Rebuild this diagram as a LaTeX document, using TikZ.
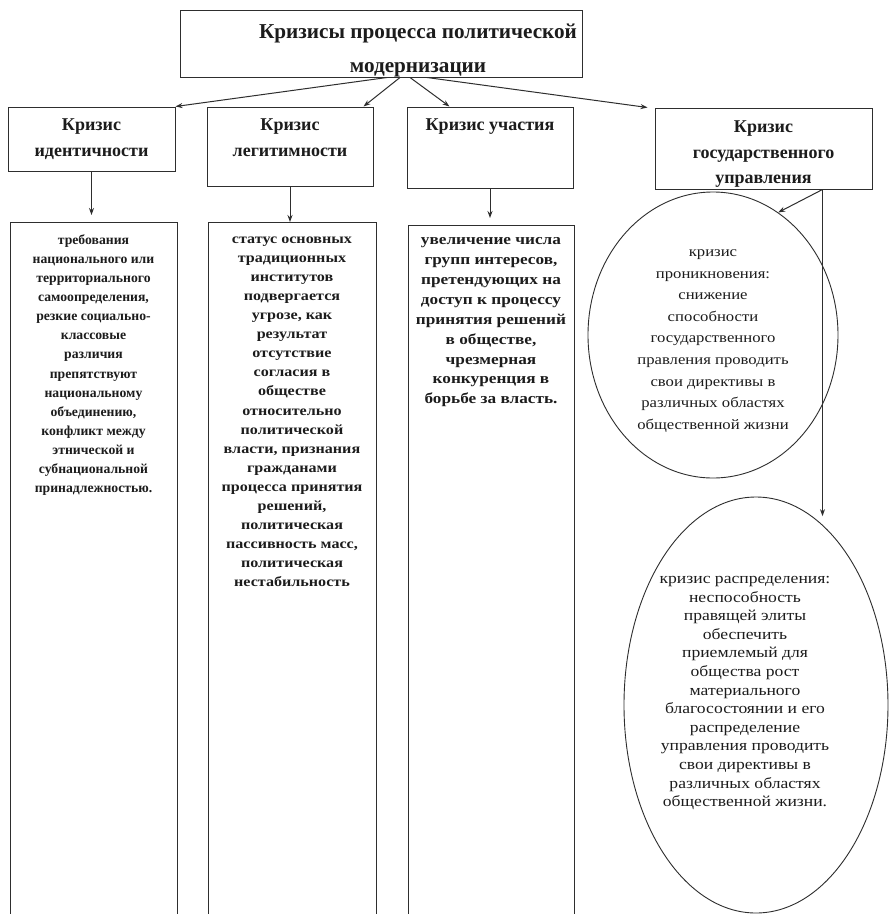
\documentclass[tikz,border=0pt]{standalone}
\usepackage{fontspec}
\setmainfont{Liberation Serif}
\newfontfamily\wideserif[FakeStretch=1.15]{Liberation Serif}
\usepackage{tikz}
\usetikzlibrary{shapes.geometric, arrows.meta, positioning, calc}
\definecolor{lineclr}{HTML}{2E2E2E}
\definecolor{textclr}{HTML}{1C1C1C}

\begin{document}
\begin{tikzpicture}[
    x=1pt, y=-1pt,
    frame/.style={rectangle, draw=lineclr, line width=1pt, inner sep=0pt},
    titletext/.style={align=center, text=textclr, font=\fontsize{21.2}{34}\selectfont\bfseries},
    headtext/.style={align=center, text=textclr, font=\fontsize{18}{25.5}\selectfont\bfseries},
    bodytext/.style={align=center, text=textclr},
    oval/.style={ellipse, draw=lineclr, line width=0.9pt, inner sep=0pt},
    ovaltext/.style={align=center, text=textclr},
    arrow/.style={-{Stealth[length=7pt, width=5pt]}, line width=1pt, color=lineclr}
]

\useasboundingbox (0,0) rectangle (889,914);
\fill[white] (0,0) rectangle (889,914);
\clip (0,0) rectangle (889,914);

% Title box
\node[frame, minimum width=402pt, minimum height=67pt] (top) at (381,43.5) {};
\node[titletext] (toptxt) at (418,50) {Кризисы процесса политической\\модернизации};

% Crisis boxes
\node[frame, minimum width=167pt, minimum height=64pt] (idn) at (91.5,139) {};
\node[headtext, below=9pt of idn.north] (idntxt) {Кризис\\идентичности};

\node[frame, minimum width=166pt, minimum height=79pt] (leg) at (290,146.5) {};
\node[headtext, below=9pt of leg.north] (legtxt) {Кризис\\легитимности};

\node[frame, minimum width=166pt, minimum height=81pt] (par) at (490,147.5) {};
\node[headtext, below=9pt of par.north] (partxt) {Кризис участия};

\node[frame, minimum width=217pt, minimum height=81pt] (gov) at (763.5,148.5) {};
\node[headtext, below=10pt of gov.north] (govtxt) {Кризис\\государственного\\управления};

% Description columns (open at the bottom)
\node[frame, minimum width=167pt, minimum height=720pt, anchor=north] (idnd) at (93.5,222) {};
\node[bodytext, below=9pt of idnd.north, font=\fontsize{13.7}{19.1}\selectfont\bfseries] (idnbody) {требования\\национального или\\территориального\\самоопределения,\\резкие социально-\\классовые\\различия\\препятствуют\\национальному\\объединению,\\конфликт между\\этнической и\\субнациональной\\принадлежностью.};

\node[frame, minimum width=168pt, minimum height=720pt, anchor=north] (legd) at (292,222) {};
\node[bodytext, below=11pt of legd.north, font=\wideserif\fontsize{14}{19.1}\selectfont\bfseries] (legbody) {статус основных\\традиционных\\институтов\\подвергается\\угрозе, как\\результат\\отсутствие\\согласия в\\обществе\\относительно\\политической\\власти, признания\\гражданами\\процесса принятия\\решений,\\политическая\\пассивность масс,\\политическая\\нестабильность};

\node[frame, minimum width=166pt, minimum height=720pt, anchor=north] (pard) at (491,225) {};
\node[bodytext, below=9pt of pard.north, font=\wideserif\fontsize{15}{19.9}\selectfont\bfseries] (parbody) {увеличение числа\\групп интересов,\\претендующих на\\доступ к процессу\\принятия решений\\в обществе,\\чрезмерная\\конкуренция в\\борьбе за власть.};

% Ovals under state governance
\node[oval, minimum width=250pt, minimum height=286pt] (pen) at (713,335) {};
\node[ovaltext, font=\wideserif\fontsize{14.5}{21.6}\selectfont] (pentxt) at ($(pen.center)+(0,6)$) {кризис\\проникновения:\\снижение\\способности\\государственного\\правления проводить\\свои директивы в\\различных областях\\общественной жизни};

\node[oval, minimum width=264pt, minimum height=416pt] (dis) at (756,705) {};
\node[ovaltext, font=\wideserif\fontsize{15.3}{18.6}\selectfont] (distxt) at ($(dis.center)+(-11,-12)$) {кризис распределения:\\неспособность\\правящей элиты\\обеспечить\\приемлемый для\\общества рост\\материального\\благосостоянии и его\\распределение\\управления проводить\\свои директивы в\\различных областях\\общественной жизни.};

% Arrows from the title
\draw[arrow] ([xshift=6pt]top.south) -- (idn.north east);
\draw[arrow] ([xshift=19pt]top.south) -- ([xshift=-10pt]leg.north east);
\draw[arrow] ([xshift=29pt]top.south) -- ([xshift=43pt]par.north west);
\draw[arrow] ([xshift=46pt]top.south) -- ([xshift=-7pt]gov.north west);

% Arrows down to the descriptions
\draw[arrow] (idn.south) -- ($(idn.south |- idnd.north)+(0,-7)$);
\draw[arrow] (leg.south) -- (leg.south |- legd.north);
\draw[arrow] (par.south) -- ($(par.south |- pard.north)+(0,-7)$);

\coordinate (govout) at ([xshift=-50pt]gov.south east);
\draw[arrow] (govout) -- (pen.62);
\draw[arrow, shorten >=8pt] (govout) -- (govout |- dis.70);

\end{tikzpicture}
\end{document}
